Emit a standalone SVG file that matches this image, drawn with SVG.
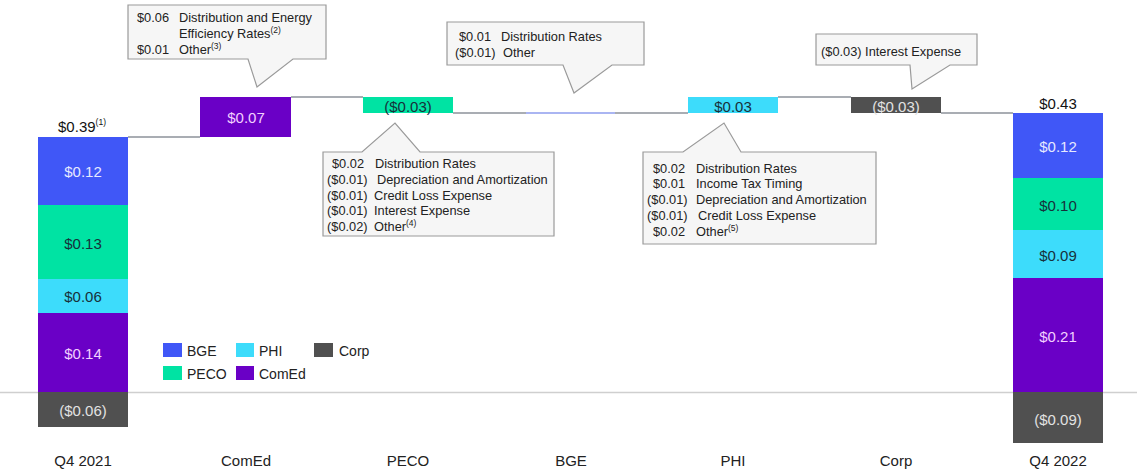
<svg xmlns="http://www.w3.org/2000/svg" width="1137" height="472" viewBox="0 0 1137 472">
<style>
text{font-family:"Liberation Sans",Arial,sans-serif;}
.bge{fill:#4057f7}
.peco{fill:#00e3a3}
.phi{fill:#3ddcfb}
.comed{fill:#6a00c6}
.corp{fill:#505050}
.vl{font-size:15px;text-anchor:middle;dominant-baseline:central}
.lt{fill:#e6e9ff}
.dk{fill:#17303a}
.pk{fill:#f2d0ff}
.gy{fill:#e2e2e2}
.ax{font-size:15px;fill:#222;text-anchor:middle;dominant-baseline:central}
.tot{font-size:15px;fill:#111;text-anchor:middle;dominant-baseline:central}
.co{fill:#f6f6f6;stroke:#9a9a9a;stroke-width:1.2}
.ct{font-size:12.8px;fill:#222;dominant-baseline:central}
.sup{font-size:8.5px}
.lg{font-size:14px;fill:#222;dominant-baseline:central}
.cn{stroke:#a9adb3;stroke-width:2;fill:none}
</style>
<rect width="1137" height="472" fill="#ffffff"/>
<line x1="0" y1="392.5" x2="1137" y2="392.5" stroke="#cfcfcf" stroke-width="1.5"/>
<g id="connectors">
<line class="cn" x1="128" y1="137" x2="200" y2="137"/>
<line class="cn" x1="291" y1="97" x2="363" y2="97"/>
<line class="cn" x1="453" y1="113" x2="526" y2="113"/>
<line x1="526" y1="113" x2="615" y2="113" stroke="#aab5f2" stroke-width="2"/>
<line class="cn" x1="615" y1="113" x2="688" y2="113"/>
<line class="cn" x1="778" y1="97" x2="851" y2="97"/>
<line class="cn" x1="941" y1="113" x2="1013" y2="113"/>
</g>
<g id="q4-2021">
<rect class="bge" x="38" y="137" width="90" height="68"/>
<rect class="peco" x="38" y="205" width="90" height="74"/>
<rect class="phi" x="38" y="279" width="90" height="34"/>
<rect class="comed" x="38" y="313" width="90" height="79"/>
<rect class="corp" x="38" y="392" width="90" height="35"/>
<text class="vl lt" x="83" y="171">$0.12</text>
<text class="vl dk" x="83" y="243">$0.13</text>
<text class="vl dk" x="83" y="296">$0.06</text>
<text class="vl pk" x="83" y="353">$0.14</text>
<text class="vl gy" x="83" y="410">($0.06)</text>
<text class="tot" x="82" y="126">$0.39<tspan class="sup" dy="-4">(1)</tspan></text>
<text class="ax" x="83" y="460">Q4 2021</text>
</g>
<g id="comed">
<rect class="comed" x="200" y="97" width="91" height="40"/>
<text class="vl pk" x="246" y="117">$0.07</text>
<text class="ax" x="246" y="460">ComEd</text>
</g>
<g id="peco">
<rect class="peco" x="363" y="97" width="90" height="16"/>
<text class="vl dk" x="408" y="106">($0.03)</text>
<text class="ax" x="408" y="460">PECO</text>
</g>
<g id="bge">
<text class="ax" x="571" y="460">BGE</text>
</g>
<g id="phi">
<rect class="phi" x="688" y="97" width="90" height="16"/>
<text class="vl dk" x="733" y="106">$0.03</text>
<text class="ax" x="733" y="460">PHI</text>
</g>
<g id="corp">
<rect class="corp" x="851" y="97" width="90" height="16"/>
<text class="vl gy" x="896" y="106">($0.03)</text>
<text class="ax" x="896" y="460">Corp</text>
</g>
<g id="q4-2022">
<rect class="bge" x="1013" y="113" width="90" height="65"/>
<rect class="peco" x="1013" y="178" width="90" height="52"/>
<rect class="phi" x="1013" y="230" width="90" height="48"/>
<rect class="comed" x="1013" y="278" width="90" height="114"/>
<rect class="corp" x="1013" y="392" width="90" height="51"/>
<text class="vl lt" x="1058" y="146">$0.12</text>
<text class="vl dk" x="1058" y="205">$0.10</text>
<text class="vl dk" x="1058" y="255">$0.09</text>
<text class="vl pk" x="1058" y="336">$0.21</text>
<text class="vl gy" x="1058" y="419">($0.09)</text>
<text class="tot" x="1058" y="103">$0.43</text>
<text class="ax" x="1058" y="460">Q4 2022</text>
</g>
<g id="callout-comed">
<path class="co" d="M128,5 H326 V59 H293 L257,87 L248,59 H128 Z"/>
<text class="ct" x="137" y="17">$0.06</text>
<text class="ct" x="179" y="17">Distribution and Energy</text>
<text class="ct" x="179" y="33">Efficiency Rates<tspan class="sup" dy="-3">(2)</tspan></text>
<text class="ct" x="137" y="49">$0.01</text>
<text class="ct" x="179" y="49">Other<tspan class="sup" dy="-3">(3)</tspan></text>
</g>
<g id="callout-bge">
<path class="co" d="M447,22 H644 V65 H612 L574,93 L563,65 H447 Z"/>
<text class="ct" x="459" y="36">$0.01</text>
<text class="ct" x="501" y="36">Distribution Rates</text>
<text class="ct" x="455" y="52">($0.01)</text>
<text class="ct" x="503" y="52">Other</text>
</g>
<g id="callout-corp">
<path class="co" d="M816,34 H977 V65 H950 L912,89 L910,65 H816 Z"/>
<text class="ct" x="821" y="51">($0.03)  Interest Expense</text>
</g>
<g id="callout-peco">
<path class="co" d="M323,152 H362 L395,123 L420,152 H554 V236 H323 Z"/>
<text class="ct" x="332" y="163">$0.02</text>
<text class="ct" x="375" y="163">Distribution Rates</text>
<text class="ct" x="327" y="179">($0.01)</text>
<text class="ct" x="377" y="179">Depreciation and Amortization</text>
<text class="ct" x="327" y="195">($0.01)</text>
<text class="ct" x="374" y="195">Credit Loss Expense</text>
<text class="ct" x="327" y="210">($0.01)</text>
<text class="ct" x="374" y="210">Interest Expense</text>
<text class="ct" x="327" y="226">($0.02)</text>
<text class="ct" x="374" y="226">Other<tspan class="sup" dy="-3">(4)</tspan></text>
</g>
<g id="callout-phi">
<path class="co" d="M643,152 H683 L724,123 L741,152 H876 V244 H643 Z"/>
<text class="ct" x="653" y="168">$0.02</text>
<text class="ct" x="696" y="168">Distribution Rates</text>
<text class="ct" x="653" y="183">$0.01</text>
<text class="ct" x="696" y="183">Income Tax Timing</text>
<text class="ct" x="647" y="199">($0.01)</text>
<text class="ct" x="696" y="199">Depreciation and Amortization</text>
<text class="ct" x="647" y="215">($0.01)</text>
<text class="ct" x="698" y="215">Credit Loss Expense</text>
<text class="ct" x="653" y="231">$0.02</text>
<text class="ct" x="696" y="231">Other<tspan class="sup" dy="-3">(5)</tspan></text>
</g>
<g id="legend">
<rect class="bge" x="163" y="343" width="19" height="14"/>
<text class="lg" x="187" y="351">BGE</text>
<rect class="phi" x="236" y="343" width="18" height="14"/>
<text class="lg" x="259" y="351">PHI</text>
<rect class="corp" x="314" y="343" width="19" height="14"/>
<text class="lg" x="339" y="351">Corp</text>
<rect class="peco" x="163" y="366" width="19" height="14"/>
<text class="lg" x="187" y="374">PECO</text>
<rect class="comed" x="236" y="366" width="18" height="14"/>
<text class="lg" x="259" y="374">ComEd</text>
</g>
</svg>
